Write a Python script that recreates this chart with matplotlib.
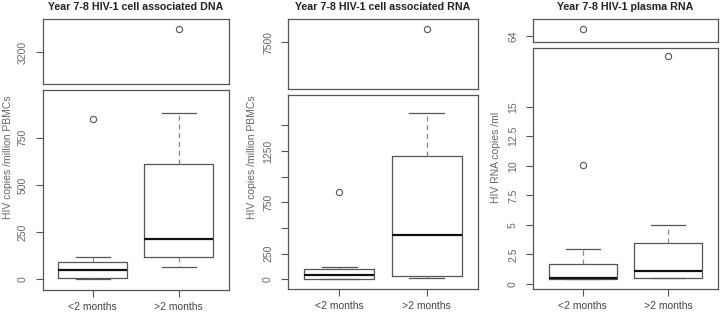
import matplotlib
matplotlib.use("Agg")
import matplotlib.pyplot as plt

plt.rcParams['font.family'] = ['Liberation Sans', 'DejaVu Sans']

groups = ['<2 months', '>2 months']

# cell associated DNA
dna_whislo = [0, 67]
dna_q1 = [7, 120]
dna_med = [49, 215]
dna_q3 = [93, 609]
dna_whishi = [118, 882]
dna_fliers = [[851], [3325]]

# cell associated RNA
rna_whislo = [0, 10]
rna_q1 = [3, 32]
rna_med = [45, 435]
rna_q3 = [97, 1204]
rna_whishi = [117, 1622]
rna_fliers = [[847], [7632]]

# plasma RNA
pl_whislo = [0.4, 0.48]
pl_q1 = [0.4, 0.48]
pl_med = [0.51, 1.13]
pl_q3 = [1.72, 3.45]
pl_whishi = [2.99, 5.0]
pl_fliers = [[10.1, 64.62], [19.3]]

LINE = '#555555'
TXT = '#666666'
W, H = 720, 314


def make_stats(whislo, q1, med, q3, whishi, fliers):
    out = []
    for i in range(len(groups)):
        out.append({'whislo': whislo[i], 'q1': q1[i], 'med': med[i], 'q3': q3[i],
                    'whishi': whishi[i], 'fliers': fliers[i], 'label': groups[i]})
    return out


def px_axes(fig, x0, x1, y0, y1):
    # pixel coords, y measured from top
    return fig.add_axes([x0 / W, 1 - y1 / H, (x1 - x0) / W, (y1 - y0) / H])


def draw(ax, stats):
    ax.bxp(stats, positions=[1, 2], widths=0.8, showfliers=True,
           boxprops=dict(color=LINE, lw=0.9),
           medianprops=dict(color='#111111', lw=1.6),
           whiskerprops=dict(color='#888888', lw=0.9, linestyle=(0, (4, 3))),
           capprops=dict(color=LINE, lw=0.9),
           capwidths=0.4,
           flierprops=dict(marker='o', markersize=4.5, markerfacecolor='none',
                           markeredgecolor=LINE, markeredgewidth=0.8))
    ax.set_xlim(0.42, 2.58)
    for s in ax.spines.values():
        s.set_color(LINE)
        s.set_linewidth(0.9)
    ax.tick_params(axis='y', colors=LINE, labelcolor=TXT, length=5, width=0.8,
                   pad=6, labelsize=7.5, labelrotation=90)


def panel(fig, x0, x1, top_y, bot_y, stats, top_lim, top_ticks, bot_lim, bot_ticks,
          bot_labels, title, ylabel, ylab_x):
    ax_t = px_axes(fig, x0, x1, top_y[0], top_y[1])
    ax_b = px_axes(fig, x0, x1, bot_y[0], bot_y[1])
    draw(ax_t, stats)
    draw(ax_b, stats)
    ax_t.set_ylim(*top_lim)
    ax_t.set_yticks(top_ticks)
    ax_t.set_yticklabels([str(t) for t in top_ticks], rotation=90, va='center')
    ax_t.set_xticks([])
    ax_b.set_ylim(*bot_lim)
    ax_b.set_yticks(bot_ticks)
    ax_b.set_yticklabels(bot_labels, rotation=90, va='center')
    ax_b.set_xticks([1, 2])
    ax_b.set_xticklabels(groups)
    ax_b.tick_params(axis='x', colors=LINE, labelcolor='#444444', length=5, width=0.8,
                     pad=3.5, labelsize=7.5)
    fig.text((x0 + x1) / 2 / W, 1 - 7 / H, title, ha='center', va='center',
             fontsize=7.7, fontweight='bold', color='#222222')
    fig.text(ylab_x / W, 1 - 157 / H, ylabel, rotation=90, ha='center', va='center',
             fontsize=7.5, color=TXT)


fig = plt.figure(figsize=(7.2, 3.14), dpi=100)

panel(fig, 43, 228.7, (19, 84), (90, 290),
      make_stats(dna_whislo, dna_q1, dna_med, dna_q3, dna_whishi, dna_fliers),
      (3032, 3376), [3200],
      (-57, 1003), [0, 250, 500, 750], ['0', '250', '500', '750'],
      'Year 7-8 HIV-1 cell associated DNA', 'HIV copies /million PBMCs', 8)

panel(fig, 288.3, 477.7, (19, 89), (94.7, 289.3),
      make_stats(rna_whislo, rna_q1, rna_med, rna_q3, rna_whishi, rna_fliers),
      (7045, 7727), [7500],
      (-97, 1798), [0, 250, 500, 750, 1000, 1250, 1500],
      ['0', '250', '', '750', '', '1250', ''],
      'Year 7-8 HIV-1 cell associated RNA', 'HIV copies /million PBMCs', 252)

panel(fig, 533.3, 717.7, (19, 42.3), (47.7, 289.3),
      make_stats(pl_whislo, pl_q1, pl_med, pl_q3, pl_whishi, pl_fliers),
      (63.47, 65.44), [64],
      (-0.45, 20.0), [0, 2.5, 5, 7.5, 10, 12.5, 15],
      ['0', '2.5', '5', '7.5', '10', '12.5', '15'],
      'Year 7-8 HIV-1 plasma RNA', 'HIV RNA copies /ml', 496)

fig.savefig('out.png', dpi=100)
